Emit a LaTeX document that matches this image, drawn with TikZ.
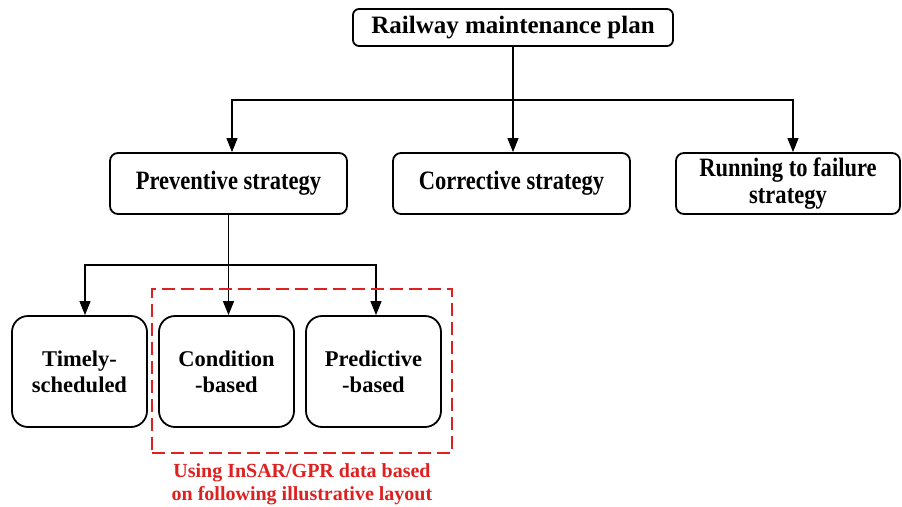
\documentclass[tikz,border=0pt]{standalone}
\usepackage{fontspec}
\setmainfont{Liberation Serif}
\newfontfamily\condfont[FakeStretch=0.85]{Liberation Serif}
\usetikzlibrary{arrows.meta}
\definecolor{myred}{RGB}{222,32,32}
\begin{document}
\begin{tikzpicture}[x=1pt,y=-1pt,
  box/.style={draw,line width=1.8pt,rounded corners=8pt,align=center,inner sep=0pt},
  topbox/.style={box,rounded corners=6pt,minimum width=320pt,minimum height=37pt,font=\fontsize{25}{29}\selectfont\bfseries},
  midbox/.style={box,minimum width=237pt,minimum height=61pt,font=\condfont\fontsize{26.5}{27}\selectfont\bfseries},
  lowbox/.style={box,rounded corners=16pt,minimum width=135pt,minimum height=111pt,font=\fontsize{22.5}{26}\selectfont\bfseries},
  conn/.style={line width=1.1pt},
  arr/.style={conn,-{Triangle[length=14pt,width=11pt]}}]
\useasboundingbox (0,0) rectangle (902,506);
\node[topbox] (plan) at (513,27.5) {Railway maintenance plan};
\node[midbox] (prev) at (228.5,183.5) {Preventive strategy};
\node[midbox] (corr) at (511.5,183.5) {Corrective strategy};
\node[midbox,minimum width=224pt] (run) at (788,183.5) {Running to failure\\strategy};
\node[lowbox] (time) at (79.5,371.5) {Timely-\\scheduled};
\node[lowbox] (cond) at (226.5,371.5) {Condition\\-based};
\node[lowbox] (pred) at (373.5,371.5) {Predictive\\-based};
\coordinate (j1) at (513,100);
\coordinate (j2) at (228.5,265);
\draw[conn] (plan.south) -- (j1);
\draw[arr] (j1) -| ([xshift=3.5pt]prev.north);
\draw[arr] (j1) -- (j1 |- corr.north);
\draw[arr] (j1) -| ([xshift=5pt]run.north);
\draw[conn] (prev.south) -- (j2);
\draw[arr] (j2) -| ([xshift=5.5pt]time.north);
\draw[arr] (j2) -- (j2 |- cond.north);
\draw[arr] (j2) -| ([xshift=2.5pt]pred.north);
\node[draw=myred,line width=1.8pt,dash pattern=on 13pt off 6pt,minimum width=300pt,minimum height=164pt,inner sep=0pt] (grp) at (302,371) {};
\node[text=myred,font=\fontsize{20}{23}\selectfont\bfseries,align=center,anchor=north] (note) at (grp.south) [yshift=-6pt] {Using InSAR/GPR data based\\on following illustrative layout};
\end{tikzpicture}
\end{document}
